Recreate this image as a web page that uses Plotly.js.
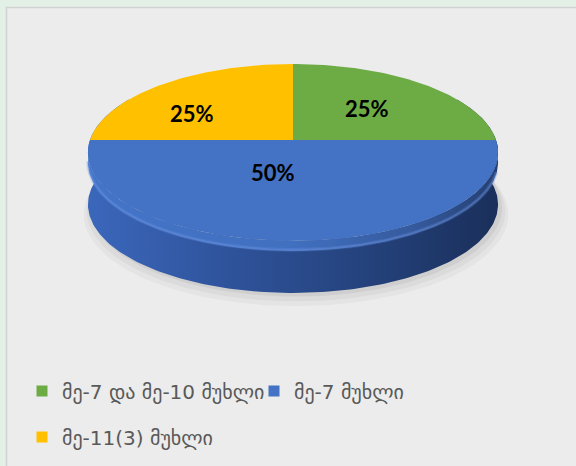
<!DOCTYPE html>
<html>
<head>
<meta charset="utf-8">
<script src="https://cdn.plot.ly/plotly-3.0.1.min.js"></script>
<style>html,body{margin:0;padding:0;background:#e3f0e6;}#chart{width:576px;height:466px;}</style>
</head>
<body>
<div id="chart"></div>
<script>
// ---- data ----
const categories = ["მე-7 და მე-10 მუხლი", "მე-7 მუხლი", "მე-11(3) მუხლი"];
const values = [25, 50, 25];
const colors = ["#6dab45", "#4472c4", "#ffc000"];

// ---- geometry / style (pixel units, y down) ----
const CX = 293, CY = 140, R = 203, A = 86.7, D = 7.08, H = 52;
const labelR = [0.547, 0.373, 0.613];
const labelTurn = [0, 14.5, -13]; // degrees
function proj(phi, r, drop) {
  const X = r * Math.sin(phi), Z = r * Math.cos(phi);
  const s = D / (D + Z);
  return [CX + R * X * s, CY - A * Z * s + (drop || 0)];
}
const deg = Math.PI / 180;
function arc(a0, a1, r, drop, step) {
  const pts = [];
  const n = Math.max(2, Math.ceil(Math.abs(a1 - a0) / (step || 1)));
  for (let i = 0; i <= n; i++) pts.push(proj((a0 + (a1 - a0) * i / n) * deg, r, drop));
  return pts;
}
function poly(p, extra) {
  return Object.assign({type: "scatter", mode: "lines", x: p.map(q => q[0]), y: p.map(q => q[1]),
    fill: "toself", line: {width: 0}, hoverinfo: "skip", showlegend: false}, extra);
}

const traces = [];
const total = values.reduce((a, b) => a + b, 0);

// soft shadow
[[1.035, 9, 0.03], [1.02, 6, 0.04], [1.005, 3, 0.05]].forEach(([k, dd, op]) => {
  const p = arc(0, 360, k, H + dd, 2);
  traces.push(poly(p.map(q => [q[0] + 3, q[1]]), {fillcolor: "rgba(0,0,0," + op + ")"}));
});

// side (rim)
traces.push(poly(arc(60, 300, 1, 0, 1).concat(arc(300, 60, 1, H, 1)), {
  fillgradient: {type: "horizontal", colorscale: [[0, "#3b67bb"], [0.4, "#2d5096"], [0.75, "#223e75"], [1, "#1a2f5a"]]}}));

// bevel band just below the top edge
traces.push(poly(arc(88, 272, 1, 0, 1).concat(arc(272, 88, 1, 10, 1)), {
  fillgradient: {type: "horizontal", colorscale: [[0, "#4474c8"], [0.5, "#4170c0"], [0.8, "#35599c"], [1, "#243f72"]]}}));
// soft bevel highlight
[[4, 0.18], [2.2, 0.35]].forEach(([w, op]) => {
  const p = arc(105, 262, 1, 9, 1);
  traces.push({type: "scatter", mode: "lines", x: p.map(q => q[0]), y: p.map(q => q[1]),
    line: {width: w, color: "rgba(110,150,225," + op + ")"}, hoverinfo: "skip", showlegend: false});
});

// top face wedges
let acc = 0;
const annotations = [];
values.forEach((v, i) => {
  const a0 = acc / total * 360, a1 = (acc + v) / total * 360;
  acc += v;
  const p = [proj(0, 0, 0)].concat(arc(a0, a1, 1, 0, 1));
  p.push(p[0]);
  traces.push(poly(p, {fillcolor: colors[i]}));
  const lp = proj(((a0 + a1) / 2 + labelTurn[i]) * deg, labelR[i], 0);
  annotations.push({x: lp[0], y: lp[1], xref: "x", yref: "y", showarrow: false,
    text: Math.round(v / total * 100) + "%",
    font: {family: "Lato, 'Open Sans', sans-serif", size: 22, color: "#000", weight: "bold"}});
});

// legend entries
const legendIds = ["legend", "legend2", "legend3"];
categories.forEach((c, i) => {
  traces.push({type: "scatter", mode: "markers", x: [null], y: [null], name: c,
    legend: legendIds[i],
    marker: {symbol: "square", size: 11, color: colors[i]}});
});

const legFont = {family: "'DejaVu Sans', sans-serif", size: 20, color: "#595959"};
function leg(xpx, ypx) {
  return {orientation: "h", x: xpx / 576, y: 1 - ypx / 466, xanchor: "left", yanchor: "middle",
    font: legFont, bgcolor: "rgba(0,0,0,0)", borderwidth: 0, itemclick: false, itemdoubleclick: false};
}

const layout = {
  width: 576, height: 466,
  margin: {l: 0, r: 0, t: 0, b: 0},
  paper_bgcolor: "#e3f0e6", plot_bgcolor: "#e3f0e6",
  xaxis: {range: [0, 576], visible: false, fixedrange: true},
  yaxis: {range: [466, 0], visible: false, fixedrange: true},
  shapes: [{type: "rect", xref: "x", yref: "y", x0: 6.5, y0: 7.5, x1: 590, y1: 480,
    fillcolor: "#ececec", line: {color: "#d2d2d2", width: 1.5}, layer: "below"}],
  annotations: annotations,
  legend: leg(22, 391),
  legend2: leg(254, 391),
  legend3: leg(22, 437),
  showlegend: true
};

Plotly.newPlot("chart", traces, layout, {displayModeBar: false, staticPlot: true});
</script>
</body>
</html>
